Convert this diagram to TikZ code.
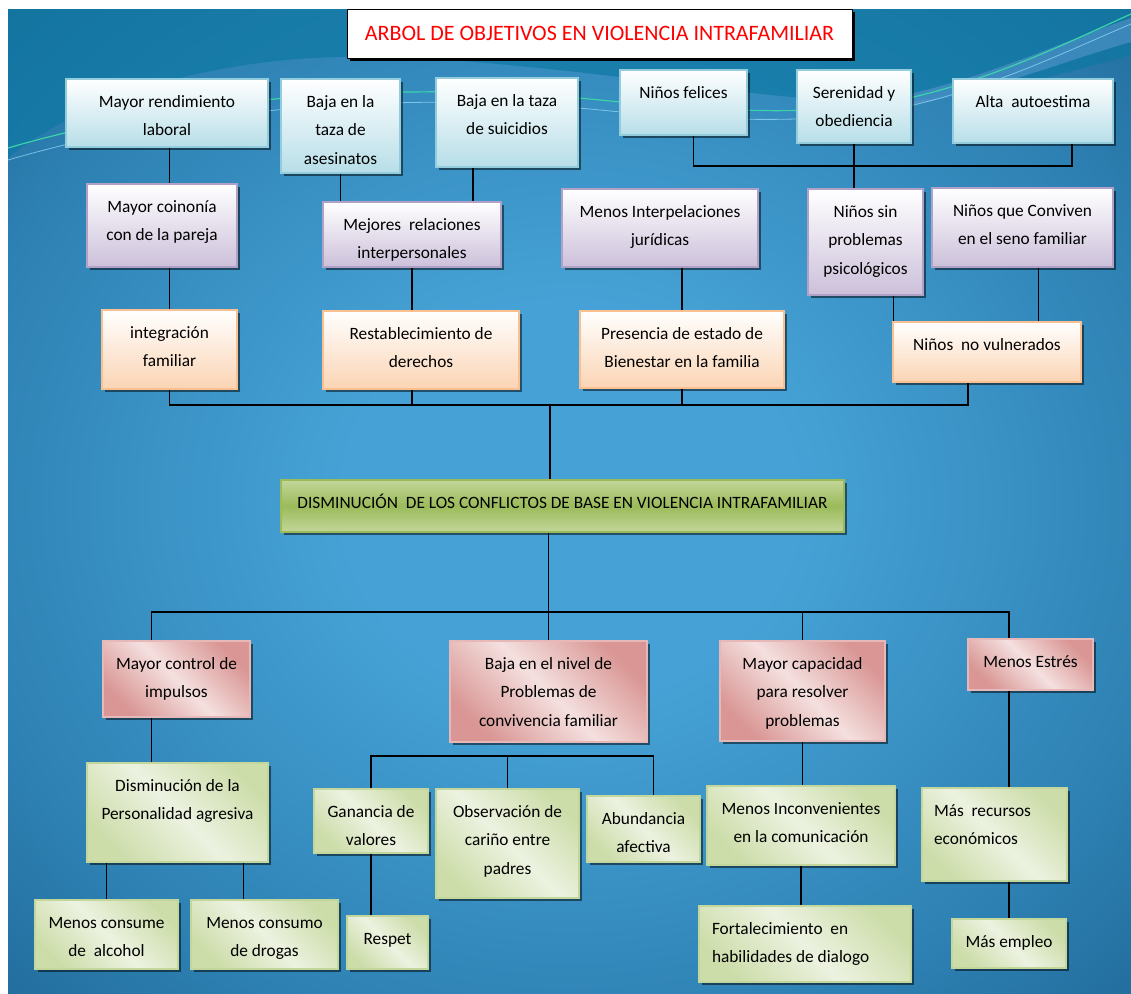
\documentclass[tikz,border=0pt]{standalone}
\usepackage{fontspec}
\setmainfont{Carlito}
\usetikzlibrary{shadows}

\definecolor{fondoClaro}{RGB}{70,162,214}
\definecolor{fondoMedio}{RGB}{45,128,178}
\definecolor{fondoBorde}{RGB}{22,90,135}
\definecolor{fondoOscuro}{RGB}{8,66,104}
\definecolor{tealOnda}{RGB}{12,120,162}
\definecolor{verdeOnda}{RGB}{60,210,170}
\definecolor{azulCaja}{RGB}{183,222,232}
\definecolor{azulBorde}{RGB}{147,205,221}
\definecolor{lilaCaja}{RGB}{204,192,218}
\definecolor{lilaBorde}{RGB}{178,161,199}
\definecolor{naranjaCaja}{RGB}{251,212,180}
\definecolor{naranjaBorde}{RGB}{250,192,144}
\definecolor{rojoCaja}{RGB}{217,150,148}
\definecolor{rojoClaro}{RGB}{244,224,223}
\definecolor{rojoBorde}{RGB}{230,185,184}
\definecolor{verdeCaja}{RGB}{205,221,170}
\definecolor{verdeClaro}{RGB}{236,242,224}
\definecolor{verdeBorde}{RGB}{195,214,155}
\definecolor{verdeFuerte}{RGB}{155,187,89}

\pgfdeclareradialshading{fondo}{\pgfpoint{0bp}{0bp}}{%
  color(0bp)=(fondoClaro); color(10bp)=(fondoClaro); color(28bp)=(fondoMedio);
  color(44bp)=(fondoBorde); color(66bp)=(fondoOscuro)}

\tikzset{
  caja/.style={rectangle, inner xsep=4pt, inner ysep=0pt, text height=28pt,
    align=flush center, font=\fontsize{17.3}{28.5}\selectfont, line width=1.4pt,
    drop shadow={shadow xshift=2.5pt, shadow yshift=-2.5pt, fill=black, opacity=0.5}},
  dim/.style 2 args={text width=#1pt-8pt, text depth=#2pt},
  finA/.style={caja, draw=azulBorde, top color=white, bottom color=azulCaja},
  finB/.style={caja, draw=lilaBorde, top color=white, bottom color=lilaCaja},
  finC/.style={caja, draw=naranjaBorde, top color=white, bottom color=naranjaCaja},
  medio/.style={caja, draw=rojoBorde, top color=rojoCaja, bottom color=rojoCaja,
    middle color=rojoClaro, shading angle=-45},
  accion/.style={caja, draw=verdeBorde, top color=verdeCaja, bottom color=verdeCaja,
    middle color=verdeClaro, shading angle=-45},
  objetivo/.style={caja, draw=verdeFuerte, top color=verdeBorde, bottom color=verdeBorde,
    middle color=verdeFuerte},
  titulo/.style={rectangle, draw=black, line width=1pt, fill=white, minimum width=505pt,
    minimum height=49pt, text=red, font=\fontsize{22}{26}\selectfont,
    drop shadow={shadow xshift=3pt, shadow yshift=-3pt, fill=black, opacity=1}},
  enlace/.style={line width=1.3pt, black}
}

\begin{document}
\begin{tikzpicture}[x=1pt, y=-1pt]
 \useasboundingbox (0,0) rectangle (1131,993);
 \fill[white] (0,0) rectangle (1131,993);

 %Fondo
 \shade[shading=fondo] (8,9) rectangle (1131,993);
 \fill[tealOnda, opacity=0.65] (8,9) -- (1131,9) -- (1131,55) .. controls (1000,92) and (930,104) .. (860,102)
   .. controls (720,96) and (520,55) .. (340,57) .. controls (200,60) and (80,100) .. (8,158) -- cycle;
 \fill[cyan!55!blue!60, opacity=0.45] (880,100) .. controls (980,82) and (1060,42) .. (1131,18)
   -- (1131,42) .. controls (1060,62) and (980,96) .. (880,110) -- cycle;
 \draw[verdeOnda, line width=1.2pt] (8,148) .. controls (200,92) and (420,82) .. (600,100)
   .. controls (700,110) and (800,116) .. (880,104) .. controls (980,86) and (1060,46) .. (1131,14);
 \draw[white!60!cyan, line width=0.8pt, opacity=0.7] (8,160) .. controls (200,104) and (420,92) .. (600,110)
   .. controls (700,120) and (800,124) .. (880,112) .. controls (980,94) and (1060,54) .. (1131,24);

 %Titulo
 \node (titulo) [titulo] at (599.5,33.5) {ARBOL DE OBJETIVOS EN VIOLENCIA INTRAFAMILIAR};

 %Fines
 \node (rendimiento) [finA, dim={202}{40}] at (167,113) {Mayor rendimiento\\laboral};
 \node (asesinatos) [finA, dim={119}{66}] at (340.5,126) {Baja en la\\taza de\\asesinatos};
 \node (suicidios) [finA, dim={142}{61}] at (507,122.5) {Baja en la taza\\de suicidios};
 \node (felices) [finA, dim={127}{37}] at (683.5,102.5) {Niños felices};
 \node (serenidad) [finA, dim={114}{45}] at (854,106.5) {Serenidad y\\obediencia};
 \node (autoestima) [finA, dim={160}{36}] at (1033,111) {Alta~ autoestima};

 \node (coinonia) [finB, dim={150}{55}] at (162,225.5) {Mayor coinonía\\con de la pareja};
 \node (relaciones) [finB, dim={178}{37}] at (412,234.5) {Mejores~ relaciones\\interpersonales};
 \node (juridicas) [finB, dim={196}{50}] at (660,228) {Menos Interpelaciones\\jurídicas};
 \node (psicologicos) [finB, dim={115}{78}] at (865.5,242) {Niños sin\\problemas\\psicológicos};
 \node (conviven) [finB, dim={181}{51}] at (1022.5,227.5) {Niños que Conviven\\en el seno familiar};

 \node (integracion) [finC, dim={135}{51}] at (169.5,349.5) {integración\\familiar};
 \node (derechos) [finC, dim={196}{50}] at (421,350) {Restablecimiento de\\derechos};
 \node (bienestar) [finC, dim={204}{49}] at (682,349.5) {Presencia de estado de\\Bienestar en la familia};
 \node (vulnerados) [finC, dim={188}{32}] at (987,352) {Niños~ no vulnerados};

 %Objetivo central
 \node (central) [objetivo, dim={563}{24}] at (562.5,506) {DISMINUCIÓN~ DE LOS CONFLICTOS DE BASE EN VIOLENCIA INTRAFAMILIAR};

 %Medios
 \node (impulsos) [medio, dim={147}{48}] at (176.5,679) {Mayor control de\\impulsos};
 \node (convivencia) [medio, dim={197}{73}] at (548.5,691.5) {Baja en el nivel de\\Problemas de\\convivencia familiar};
 \node (capacidad) [medio, dim={165}{72}] at (802.5,691) {Mayor capacidad\\para resolver\\problemas};
 \node (estres) [medio, dim={125}{23}] at (1030.5,664.5) {Menos Estrés};

 \node (agresiva) [accion, dim={181}{71}] at (177.5,812.5) {Disminución de la\\Personalidad agresiva};
 \node (valores) [accion, dim={114}{36}] at (371,821) {Ganancia de\\valores};
 \node (carino) [accion, dim={143}{81}] at (507.5,843.5) {Observación de\\cariño entre\\padres};
 \node (afectiva) [accion, dim={113}{38}] at (643.5,829) {Abundancia\\afectiva};
 \node (comunicacion) [accion, dim={188}{51}] at (801,825.5) {Menos Inconvenientes\\en la comunicación};
 \node (recursos) [accion, align=flush left, inner xsep=12pt, text width=121pt, text depth=65pt] at (994.5,834.5) {Más~ recursos\\económicos};
 \node (alcohol) [accion, dim={143}{41}] at (106.5,934.5) {Menos consume\\de~ alcohol};
 \node (drogas) [accion, dim={147}{41}] at (264.5,934.5) {Menos consumo\\de drogas};
 \node (respet) [accion, dim={81}{25}] at (387.5,942.5) {Respet};
 \node (dialogo) [accion, align=flush left, inner xsep=13pt, text width=186pt, text depth=48pt] at (805,944) {Fortalecimiento~ en\\habilidades de dialogo};
 \node (empleo) [accion, dim={114}{21}] at (1009,943.5) {Más empleo};

 %Buses
 \coordinate (busNinos) at (857,166);
 \coordinate (busArriba) at (550,405);
 \coordinate (busAbajo) at (550,612);
 \coordinate (busFamilia) at (511,756);

 %Enlaces de fines
 \draw[enlace] (rendimiento.south -| integracion) -- (coinonia.north -| integracion);
 \draw[enlace] (coinonia.south -| integracion) -- (integracion.north);
 \draw[enlace] (asesinatos.south) -- (asesinatos.south |- relaciones.north);
 \draw[enlace] ([xshift=-34pt]suicidios.south) -- ([xshift=-34pt]suicidios.south |- relaciones.north);
 \draw[enlace] (relaciones.south) -- (relaciones.south |- derechos.north);
 \draw[enlace] (bienestar.north |- juridicas.south) -- (bienestar.north);
 \draw[enlace] ([xshift=10pt]felices.south) |- (busNinos) -| ([xshift=39pt]autoestima.south);
 \draw[enlace] (serenidad.south) -- (serenidad.south |- psicologicos.north);
 \draw[enlace] ([xshift=28pt]psicologicos.south) -- ([xshift=28pt]psicologicos.south |- vulnerados.north);
 \draw[enlace] ([xshift=16pt]conviven.south) -- ([xshift=16pt]conviven.south |- vulnerados.north);
 \draw[enlace] (integracion.south) |- (busArriba) -| ([xshift=-19pt]vulnerados.south);
 \draw[enlace] (relaciones |- derechos.south) -- (relaciones |- busArriba);
 \draw[enlace] (bienestar.south) -- (bienestar.south |- busArriba);
 \draw[enlace] (busArriba) -- (busArriba |- central.north);

 %Enlaces de medios
 \draw[enlace] (central.south -| convivencia) -- (convivencia.north);
 \draw[enlace] ([xshift=-25pt]impulsos.north) |- (busAbajo) -| (empleo |- estres.north);
 \draw[enlace] (capacidad.north) -- (capacidad.north |- busAbajo);
 \draw[enlace] ([xshift=-25pt]impulsos.south) -- ([xshift=-25pt]impulsos.south |- agresiva.north);
 \draw[enlace] (alcohol.north |- agresiva.south) -- (alcohol.north);
 \draw[enlace] ([xshift=-21pt]drogas.north) -- ([xshift=-21pt]drogas.north |- agresiva.south);
 \draw[enlace] (valores.north) |- (busFamilia) -| ([xshift=10pt]afectiva.north);
 \draw[enlace] (carino.north) -- (carino.north |- busFamilia);
 \draw[enlace] (valores.south) -- (valores.south |- respet.north);
 \draw[enlace] (capacidad.south) -- (capacidad.south |- comunicacion.north);
 \draw[enlace] (comunicacion.south) -- (comunicacion.south |- dialogo.north);
 \draw[enlace] (empleo |- estres.south) -- (empleo |- recursos.north);
 \draw[enlace] (empleo |- recursos.south) -- (empleo.north);
\end{tikzpicture}
\end{document}
